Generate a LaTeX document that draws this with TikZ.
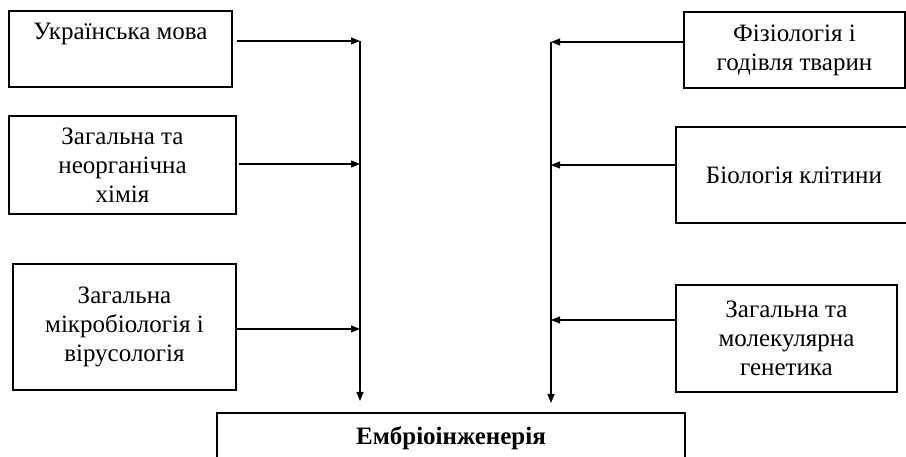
\documentclass[tikz,border=0pt]{standalone}
\usepackage{fontspec}
\setmainfont{Liberation Serif}
\usetikzlibrary{arrows.meta}
\begin{document}
\begin{tikzpicture}[x=1pt,y=-1pt,
  box/.style={draw=black,line width=1.4pt,rectangle,inner sep=0pt,align=center,
    font=\fontsize{25}{29}\selectfont},
  arr/.style={line width=1.1pt,-{Triangle[length=9pt,width=7pt]}}]
\useasboundingbox (0,0) rectangle (906,457);
\clip (0,0) rectangle (906,457);
\fill[white] (0,0) rectangle (906,457);
% left boxes
\node[box,minimum width=223pt,minimum height=76pt] (u) at (120.5,49) {\raisebox{-4pt}{Українська мова}\\ \strut};
\node[box,minimum width=227pt,minimum height=98pt] (h) at (122.5,165) {Загальна та\\неорганічна\\хімія};
\node[box,minimum width=223pt,minimum height=126pt] (m) at (124.5,327) {Загальна\\мікробіологія і\\вірусологія};
% right boxes
\node[box,minimum width=221pt,minimum height=76pt] (f) at (794.5,50) {Фізіологія і\\годівля тварин};
\node[box,minimum width=236pt,minimum height=96pt] (b) at (794,175) {\raisebox{-7pt}{Біологія клітини}};
\node[box,minimum width=221pt,minimum height=107pt] (g) at (786.5,338.5) {Загальна та\\молекулярна\\генетика};
% bottom box
\node[box,minimum width=468pt,minimum height=50pt,font=\fontsize{25}{29}\selectfont\bfseries] (e) at (451,438) {Ембріоінженерія};
% junction coordinates
\coordinate (tL) at (360,41);
\coordinate (bL) at (360,401);
\coordinate (tR) at (551,42);
\coordinate (bR) at (551,403);
% connectors
\draw[arr] ([xshift=4pt]u.east |- tL) -- (tL);
\draw[arr] ([xshift=2pt]h.east |- 0,164) -- (360,164) coordinate (hL);
\draw[arr] (m.east |- 0,329) -- (360,329) coordinate (mL);
\draw[arr] (tL) -- (bL);
\draw[arr] (f.west |- tR) -- (tR);
\draw[arr] (b.west |- 0,165) -- (551,165) coordinate (bRj);
\draw[arr] (g.west |- 0,320) -- (551,320) coordinate (gRj);
\draw[arr] (tR) -- (bR);
\end{tikzpicture}
\end{document}
